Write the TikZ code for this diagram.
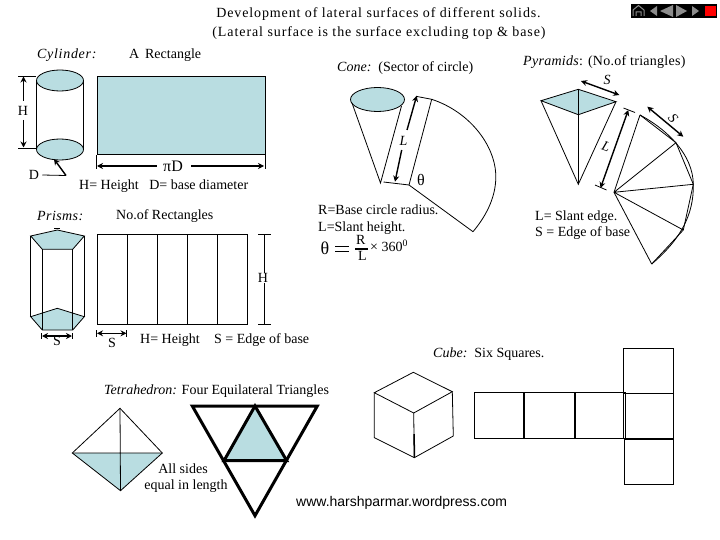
\documentclass[tikz,border=0pt]{standalone}
\usepackage{fontspec}
\setmainfont{Liberation Serif}
\newfontfamily\webfont{Liberation Sans}
\usetikzlibrary{arrows.meta}
\usetikzlibrary{positioning}
\definecolor{paleblue}{HTML}{B9DDE1}
\definecolor{navgray}{HTML}{8C8C8C}
\tikzset{
    lbl/.style={inner sep=0pt, anchor=west, font=\fontsize{14}{16}\selectfont},
    ilbl/.style={lbl, font=\fontsize{14}{16}\selectfont\itshape},
    solid_line/.style={draw=black, line width=0.8pt},
    dimarrow/.style={->, >={Stealth[length=6pt,width=6pt]}, line width=1.4pt, draw=black},
    navicon/.style={fill=navgray, draw=none}
}
\begin{document}
\begin{tikzpicture}[x=1pt, y=-1pt]
    \useasboundingbox (0,0) rectangle (720,540);

    % Title
    \node (title1) [lbl, anchor=center] at (378.5,14) {\addfontfeature{LetterSpace=6.3}Development of lateral surfaces of different solids.};
    \node (title2) [lbl, anchor=center] at (379,33) {\addfontfeature{LetterSpace=6.5}(Lateral surface is the surface excluding top \& base)};

    % Navigation buttons
    \fill[black] (630.5,4) rectangle (716.5,18);
    \fill[red] (704.5,6) rectangle (715.5,16);
    \draw[navgray, line width=1pt] (633,16) -- (633,10) -- (638.5,5.5) -- (644,10) -- (644,16) (636,16) -- (636,12) -- (641,12) -- (641,16);
    \fill[navicon] (650,11) -- (657,6) -- (657,16) -- cycle;
    \fill[navicon] (660,11) -- (673,5) -- (673,17) -- cycle;
    \fill[navicon] (687,11) -- (676,5) -- (676,17) -- cycle;
    \fill[navicon] (699,11) -- (692,6) -- (692,16) -- cycle;

    % Cylinder
    \node (cyl_label) [ilbl] at (37,55) {\addfontfeature{LetterSpace=5}Cylinder:};
    \node (rect_label) [lbl] at (129,55) {A\, Rectangle};
    \draw[solid_line, fill=paleblue] (60,149.5) ellipse [x radius=23.5, y radius=10.5];
    \draw[solid_line, fill=paleblue] (60,80.5) ellipse [x radius=23.5, y radius=10.5];
    \draw[solid_line] (36.5,81) -- (36.5,149) (83.5,81) -- (83.5,149);
    \coordinate (cyl_top) at (18,76);
    \coordinate (cyl_bot) at (18,148);
    \draw[solid_line] (cyl_top) -- (36,76) (cyl_bot) -- (36,148);
    \node (cyl_H) [lbl, anchor=center] at (23,111) {H};
    \draw[dimarrow] (23.5,101) -- (23.5,76.5);
    \draw[dimarrow] (23.5,120) -- (23.5,147.5);
    \node (cyl_D) [lbl, anchor=center] at (34,175) {D};
    \draw[solid_line] (cyl_D.east) ++(3,0) -- (66,175.5);
    \draw[dimarrow] (66,175.5) -- (54,159);

    % Rectangle of the cylinder
    \node (cyl_rect) [solid_line, fill=paleblue, inner sep=0pt, minimum width=168pt, minimum height=78pt, anchor=north west] at (96.5,76.5) {};
    \node (rect_piD) [lbl, anchor=center] at (173,166) {\fontsize{16}{16}\selectfont πD};
    \draw[solid_line] (cyl_rect.south west) -- ++(0,14) (cyl_rect.south east) -- ++(0,14);
    \draw[dimarrow] (rect_piD.west) ++(-6,0) -- (97,166);
    \draw[dimarrow] (rect_piD.east) ++(8,0) -- (264,166);
    \node (cyl_note) [lbl] at (79,186) {H= Height\,\,\, D= base diameter};

    % Cone
    \node (cone_label) [lbl] at (337,68) {\textit{Cone:}\, (Sector of circle)};
    \draw[solid_line, fill=paleblue] (377.5,99.5) ellipse [x radius=27, y radius=12];
    \coordinate (cone_apex) at (380.5,183);
    \coordinate (sector_apex) at (409,185);
    \draw[solid_line] (352,103) -- (cone_apex) -- (401.5,106);
    \draw[solid_line] (cone_apex) ++(3,-1) -- (sector_apex);
    \draw[solid_line] (417,96.5) -- (431.7,99.3) -- (sector_apex) -- (473,231.7);
    \draw[solid_line] (431.7,99.3) .. controls (470,112) and (494,145) .. (495.7,173) .. controls (497,195) and (487,215) .. (473,231.7);
    \node (cone_L) [ilbl, anchor=center] at (403.5,141) {L};
    \draw[dimarrow] (407,130) -- (416.7,95.7);
    \draw[dimarrow] (401.7,150) -- (395,181.7);
    \node (cone_theta) [lbl, anchor=center] at (421,180) {\fontsize{16}{16}\selectfont θ};

    % Cone notes
    \node (cone_note1) [lbl] at (318,210) {R=Base circle radius.};
    \node (cone_note2) [lbl] at (318,228) {L=Slant height.};
    \node (formula_theta) [lbl, anchor=center] at (325,248) {\fontsize{18}{18}\selectfont θ};
    \draw[black, line width=0.9pt] (335,246) -- (349,246) (335,251.5) -- (349,251.5);
    \node (formula_R) [lbl, anchor=center] at (360.7,240) {R};
    \node (formula_L) [lbl, anchor=center] at (362.5,256) {L};
    \draw[black, line width=1.8pt] (355,249) -- (368,249);
    \node (formula_rest) [lbl] at (370,246) {× 360\textsuperscript{0}};

    % Pyramid
    \node (pyr_label) [lbl] at (523,62) {\addfontfeature{LetterSpace=2}\textit{Pyramids}: (No.of triangles)};
    \coordinate (pyr_apex) at (578.3,184.3);
    \draw[solid_line, fill=paleblue] (541,100.7) -- (578.3,89.3) -- (616,101.7) -- (578.3,114.7) -- cycle;
    \draw[solid_line] (541,100.7) -- (pyr_apex) -- (616,101.7);
    \draw[solid_line] (578.3,89.3) -- (pyr_apex);
    \node (pyr_S) [ilbl, anchor=center] at (607,80) {S};
    \draw[dimarrow, <->] (581,81) -- (619.3,95);
    \draw[dimarrow, <->] (628.3,110) -- (600.5,188);
    \draw[solid_line] (623.5,108) -- (635,112.5) (595,185) -- (606.5,190);
    \node (pyr_L) [ilbl, anchor=center, rotate=-20] at (606,147) {L};

    % Pyramid development
    \coordinate (fan) at (614,192.3);
    \coordinate (fan0) at (640,115);
    \coordinate (fan1) at (676,142.7);
    \coordinate (fan2) at (693.3,184.3);
    \coordinate (fan3) at (683.3,230);
    \coordinate (fan4) at (651.7,264);
    \draw[solid_line] (fan0) -- (fan) -- (fan4);
    \draw[solid_line] (fan) -- (fan1) (fan) -- (fan2) (fan) -- (fan3);
    \draw[solid_line] (fan0) -- (fan1) -- (fan2) -- (fan3) -- (fan4);
    \draw[solid_line] (fan0) .. controls (668,130) and (693,155) .. (693.3,184.3) .. controls (694,215) and (680,240) .. (fan4);
    \draw[dimarrow, <->] (647.3,106.7) -- (683.3,136.7);
    \node (fan_S) [ilbl, anchor=center, rotate=-50] at (673,118) {S};
    \node (pyr_note1) [lbl] at (535,217) {L= Slant edge.};
    \node (pyr_note2) [lbl] at (535,233) {S = Edge of base};

    % Prism
    \node (prism_label) [ilbl] at (37,216) {\addfontfeature{LetterSpace=3}Prisms:};
    \node (prism_rect_label) [lbl] at (116,216) {No.of Rectangles};
    \draw[solid_line, fill=paleblue] (30.7,236) -- (57.3,230) -- (84.3,236) -- (72.7,249.3) -- (42.3,249.3) -- cycle;
    \draw[solid_line, fill=paleblue] (30.7,316.7) -- (57.3,308.3) -- (84.3,316.7) -- (72.7,330) -- (42.3,330) -- cycle;
    \draw[solid_line] (54,228.3) -- (60,228.3);
    \foreach \px/\py in {30.7/236, 84.3/236, 42.3/249.3, 72.7/249.3} {
        \draw[solid_line] (\px,\py) -- (\px,{\py+80.7});
    }
    \draw[dimarrow, <->] (42,336) -- (72,336);
    \draw[solid_line] (41.7,333) -- (41.7,339) (72,333) -- (72,339);
    \node (prism_S) [lbl, anchor=center] at (57,341) {S};

    % Rectangles of the prism
    \foreach \rx in {96.5,126.5,156.5,186.5,216.5} {
        \node (prism_rect\rx) [solid_line, inner sep=0pt, minimum width=30pt, minimum height=90pt, anchor=north west] at (\rx,234.3) {};
    }
    \draw[solid_line] (258,234.3) -- (271,234.3) (258,324.3) -- (271,324.3);
    \node (rect_H) [lbl, anchor=center] at (263,278) {H};
    \draw[solid_line] (264.3,234.3) -- (rect_H.north -| 264.3,0) (rect_H.south -| 264.3,0) -- (264.3,324.3);
    \draw[dimarrow, <->] (97,333.3) -- (126.5,333.3);
    \draw[solid_line] (96.5,330) -- (96.5,336.5) (126.7,330) -- (126.7,336.5);
    \node (rect_S) [lbl, anchor=center] at (112,343) {S};
    \node (prism_note1) [lbl] at (140,340) {H= Height};
    \node (prism_note2) [lbl] at (214,340) {S = Edge of base};

    % Tetrahedron
    \node (tetra_label) [lbl] at (104,391.5) {\textit{Tetrahedron:} Four Equilateral Triangles};
    \fill[paleblue] (72.3,453) -- (162.3,453) -- (120.5,490.7) -- cycle;
    \draw[solid_line] (72.3,453) -- (120,408.3) -- (162.3,453) -- (120.5,490.7) -- cycle;
    \draw[solid_line] (72.3,453) -- (162.3,453) (120,408.3) -- (120.5,490.7);
    \draw[black, line width=3pt, fill=paleblue] (255,406) -- (224,460.7) -- (286.7,460.7) -- cycle;
    \draw[black, line width=3pt] (192.3,406) -- (317.3,406) -- (255,515.7) -- cycle;
    \node (tetra_note1) [lbl, anchor=center] at (183,469) {All sides};
    \node (tetra_note2) [lbl, anchor=center] at (186,485.7) {equal in length};

    % Website
    \node (web) [lbl, font=\fontsize{14}{16}\selectfont\webfont] at (296,503) {www.harshparmar.wordpress.com};

    % Cube
    \node (cube_label) [lbl] at (433,354) {\textit{Cube:}\, Six Squares.};
    \coordinate (cube_mid) at (413.7,413);
    \coordinate (cube_low) at (414.3,457.7);
    \draw[solid_line] (374.3,392.7) -- (413.3,372.3) -- (452.3,391.7) -- (cube_mid) -- cycle;
    \draw[solid_line] (374.3,392.7) -- (374.3,437.7) -- (cube_low) -- (453.3,436) -- (452.3,391.7);
    \draw[solid_line] (cube_mid) -- (cube_low);
    \draw[black, line width=1.5pt] (414.2,434) -- (cube_low);

    % Six squares
    \node (sq1) [solid_line, inner sep=0pt, minimum width=49pt, minimum height=46pt, anchor=north west] at (474.3,392.3) {};
    \node (sq2) [solid_line, inner sep=0pt, minimum width=50pt, minimum height=46pt, anchor=north west] at (sq1.north east) {};
    \node (sq3) [solid_line, inner sep=0pt, minimum width=50pt, minimum height=46pt, anchor=north west] at (sq2.north east) {};
    \node (sq4) [solid_line, inner sep=0pt, minimum width=50pt, minimum height=45pt, anchor=north west] at (623.3,393.3) {};
    \node (sq5) [solid_line, inner sep=0pt, minimum width=50pt, minimum height=45pt, anchor=south west] at (sq4.north west) {};
    \node (sq6) [solid_line, inner sep=0pt, minimum width=49pt, minimum height=45pt, anchor=north east] at (sq4.south east) {};
\end{tikzpicture}
\end{document}
